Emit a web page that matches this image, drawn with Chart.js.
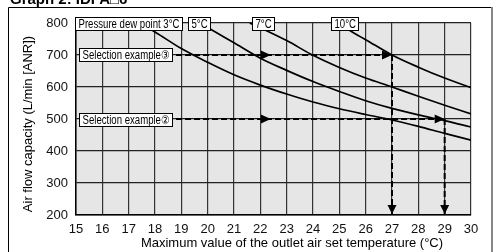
<!DOCTYPE html>
<html>
<head>
<meta charset="utf-8">
<script src="https://cdn.jsdelivr.net/npm/chart.js@4.4.1/dist/chart.umd.min.js"></script>
<style>
html, body { margin: 0; padding: 0; background: #fff; overflow: hidden; }
canvas { display: block; }
</style>
</head>
<body>
<canvas id="chart" width="496" height="252"></canvas>
<script>
// Valores (temperatura, caudal)
const dew3 = [[17.4, 800], [18, 772], [19, 720], [20, 677], [21, 638], [22, 606], [23, 578], [24, 553], [25, 532], [26, 514], [27, 497], [28, 477], [29, 455], [30, 434]];
const dew5 = [[19.7, 800], [20, 786], [21, 738], [22, 690], [23, 652], [24, 617], [25, 586], [26, 557], [27, 533], [28, 513], [29, 495], [30, 475]];
const dew7 = [[21.6, 800], [22, 785], [23, 745], [24, 699], [25, 661], [26, 628], [27, 600], [28, 571], [29, 543], [30, 516]];
const dew10 = [[24.9, 800], [25, 795], [26, 748], [27, 700], [28, 662], [29, 628], [30, 598]];

const sel3Flow = [[18.8, 700], [27, 700]];
const sel3Temp = [[27, 700], [27, 200]];
const sel2Flow = [[18.8, 500], [29, 500]];
const sel2Temp = [[29, 500], [29, 200]];
const arrowsRight = [[22.4, 700], [27, 700], [22.4, 500], [29, 500]];
const arrowsDown = [[27, 200], [29, 200]];

const curveLabels = ['Pressure dew point 3°C', '5°C', '7°C', '10°C'];
const curveLabelX = [14.97, 19.25, 21.67, 24.67];
const selLabels = ['Selection example③', 'Selection example②'];
const selLabelY = [700, 500];

const xMin = 15, xMax = 30, yMin = 200, yMax = 800;

const toPts = arr => arr.map(p => ({ x: p[0], y: p[1] }));
const SANS = '"Liberation Sans", Arial, sans-serif';

function curve(data) {
    return {
        data: toPts(data), borderColor: '#000', borderWidth: 1.7,
        pointRadius: 0, fill: false, cubicInterpolationMode: 'monotone'
    };
}
function dashed(data) {
    return {
        data: toPts(data), borderColor: '#000', borderWidth: 2,
        borderDash: [6, 3], pointRadius: 0, fill: false, tension: 0
    };
}

// texto estrecho: se comprime en horizontal
function boxLabel(ctx, text, left, cy) {
    const sx = 0.8;
    ctx.font = '12px ' + SANS;
    const w = Math.round(ctx.measureText(text).width * sx + 6);
    const h = 13;
    const top = Math.round(cy - h / 2) + 0.5;
    const l = Math.round(left) + 0.5;
    ctx.fillStyle = '#fff';
    ctx.fillRect(l, top, w, h);
    ctx.strokeStyle = '#000';
    ctx.lineWidth = 1;
    ctx.strokeRect(l, top, w, h);
    ctx.save();
    ctx.translate(l + 3, top + h / 2 + 0.5);
    ctx.scale(sx, 1);
    ctx.fillStyle = '#000';
    ctx.textAlign = 'left';
    ctx.textBaseline = 'middle';
    ctx.fillText(text, 0, 0);
    ctx.restore();
}

const backPlugin = {
    id: 'back',
    beforeDraw(chart) {
        const { ctx, chartArea: a } = chart;
        ctx.save();
        ctx.fillStyle = '#fff';
        ctx.fillRect(0, 0, chart.width, chart.height);
        ctx.fillStyle = '#e6e6e6';
        ctx.fillRect(a.left, a.top, a.right - a.left, a.bottom - a.top);
        ctx.restore();
    }
};

const overlayPlugin = {
    id: 'overlay',
    afterDraw(chart) {
        const { ctx } = chart;
        const xs = chart.scales.x, ys = chart.scales.y;
        ctx.save();

        // marco exterior y titulo
        ctx.strokeStyle = '#000';
        ctx.lineWidth = 1;
        ctx.beginPath();
        ctx.moveTo(8.5, 260); ctx.lineTo(8.5, 7.5); ctx.lineTo(491, 7.5);
        ctx.stroke();
        ctx.strokeStyle = '#888';
        ctx.lineWidth = 2;
        ctx.beginPath();
        ctx.moveTo(492, 7); ctx.lineTo(492, 260);
        ctx.stroke();
        ctx.fillStyle = '#000';
        ctx.font = 'bold 15px ' + SANS;
        ctx.textAlign = 'left';
        ctx.textBaseline = 'alphabetic';
        ctx.fillText('Graph 2: IDFA\u25A16', 10, 4);

        // flechas
        ctx.fillStyle = '#000';
        arrowsRight.forEach(p => {
            const x = xs.getPixelForValue(p[0]), y = ys.getPixelForValue(p[1]);
            ctx.beginPath();
            ctx.moveTo(x, y); ctx.lineTo(x - 10, y - 4.5); ctx.lineTo(x - 10, y + 4.5);
            ctx.closePath(); ctx.fill();
        });
        arrowsDown.forEach(p => {
            const x = xs.getPixelForValue(p[0]), y = ys.getPixelForValue(p[1]);
            ctx.beginPath();
            ctx.moveTo(x, y - 1); ctx.lineTo(x - 4.5, y - 10); ctx.lineTo(x + 4.5, y - 10);
            ctx.closePath(); ctx.fill();
        });

        // etiquetas con recuadro
        curveLabels.forEach((t, i) => boxLabel(ctx, t, xs.getPixelForValue(curveLabelX[i]), ys.getPixelForValue(yMax)));
        selLabels.forEach((t, i) => boxLabel(ctx, t, xs.getPixelForValue(15.12), ys.getPixelForValue(selLabelY[i])));

        // titulos de ejes
        ctx.fillStyle = '#000';
        ctx.font = '13px ' + SANS;
        ctx.textAlign = 'center';
        ctx.textBaseline = 'middle';
        ctx.fillText('Maximum value of the outlet air set temperature (°C)', 292, 243);
        ctx.translate(28, 124);
        ctx.rotate(-Math.PI / 2);
        ctx.fillText('Air flow capacity (L/min [ANR])', 0, 0);
        ctx.restore();
    }
};

new Chart(document.getElementById('chart'), {
    type: 'line',
    data: {
        datasets: [
            curve(dew3), curve(dew5), curve(dew7), curve(dew10),
            dashed(sel3Flow), dashed(sel3Temp), dashed(sel2Flow), dashed(sel2Temp)
        ]
    },
    options: {
        responsive: false,
        animation: false,
        devicePixelRatio: 1,
        layout: { padding: { left: 8, right: 25, top: 23, bottom: 0 } },
        plugins: { legend: { display: false }, tooltip: { enabled: false } },
        scales: {
            x: {
                type: 'linear', min: xMin, max: xMax,
                ticks: { stepSize: 1, padding: 7, color: '#111', font: { size: 13, family: SANS } },
                grid: { color: '#333', lineWidth: 1.2, drawTicks: false },
                border: { color: '#000', width: 1.5 },
                afterFit: s => { s.height = 37; }
            },
            y: {
                min: yMin, max: yMax,
                ticks: { stepSize: 100, padding: 8, color: '#111', font: { size: 13, family: SANS } },
                grid: { color: '#222', lineWidth: 1.2, drawTicks: false },
                border: { color: '#000', width: 1.5 },
                afterFit: s => { s.width = 68; }
            }
        }
    },
    plugins: [backPlugin, overlayPlugin]
});
</script>
</body>
</html>
